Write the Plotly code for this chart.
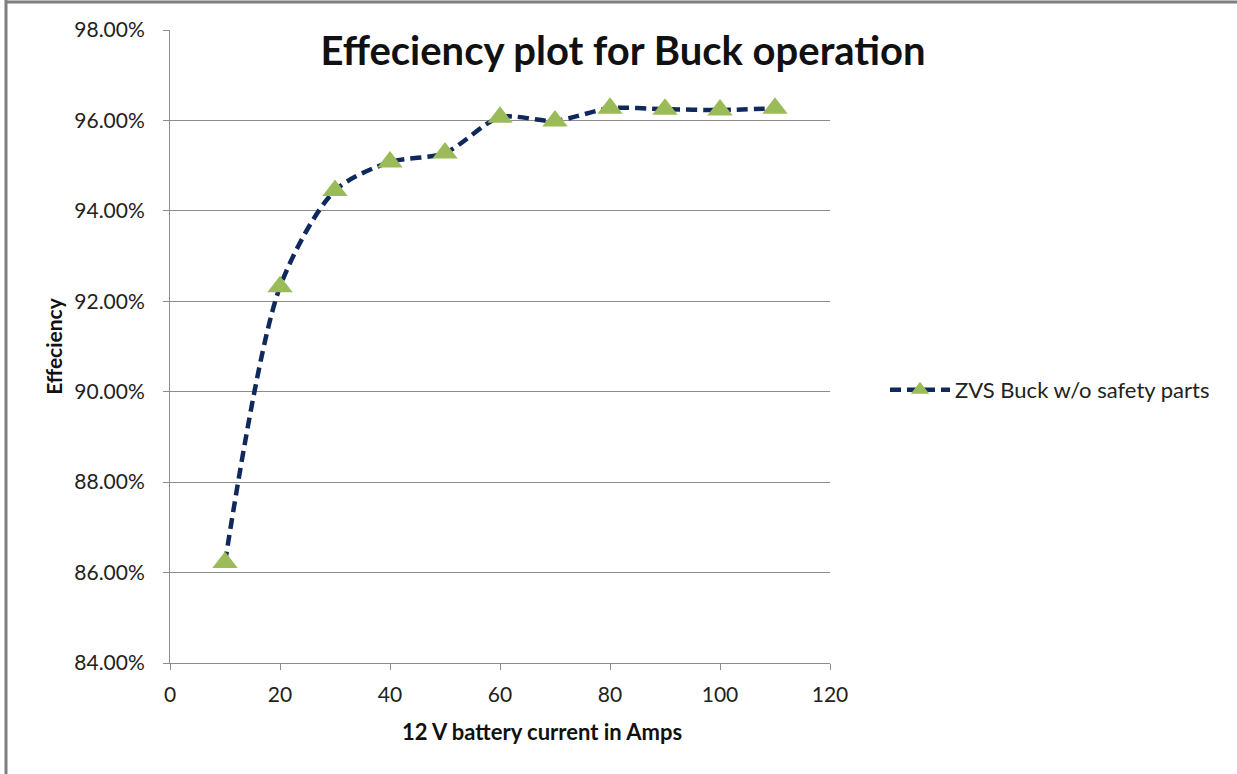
import plotly.graph_objects as go

# Battery current (A) and measured efficiency (fraction)
current_amps = [10, 20, 30, 40, 50, 60, 70, 80, 90, 100, 110]
efficiency = [0.8622, 0.9232, 0.9445, 0.9508, 0.9528, 0.9607, 0.9599,
              0.9627, 0.9625, 0.9623, 0.9627]
series_name = "ZVS Buck w/o safety parts"

FONT = "Lato, 'Open Sans', sans-serif"
AXIS_GREY = "#8c8c8c"

fig = go.Figure()
fig.add_trace(go.Scatter(
    x=current_amps,
    y=efficiency,
    name=series_name,
    mode="lines+markers",
    line=dict(color="#10295c", width=4.5, dash="11px,6px", shape="spline", smoothing=0.8),
    marker=dict(symbol="triangle-up", size=22, color="#9bbb59",
                line=dict(width=0)),
))

fig.update_layout(
    width=1237,
    height=774,
    paper_bgcolor="white",
    plot_bgcolor="white",
    margin=dict(l=170, r=407, t=30, b=111),
    font=dict(family=FONT, color="#222222"),
    title=dict(
        text="<b>Effeciency plot for Buck operation</b>",
        font=dict(family=FONT, size=40, color="#111111"),
        x=623 / 1237, xanchor="center",
        y=1 - 51 / 774, yanchor="middle",
    ),
    showlegend=True,
    legend=dict(
        x=(885 - 170) / 660, xanchor="left",
        y=(663 - 390) / 633, yanchor="middle",
        font=dict(family=FONT, size=22, color="#222222"),
        bgcolor="rgba(0,0,0,0)",
        itemwidth=60,
    ),
    xaxis=dict(
        range=[0, 120],
        dtick=20,
        tick0=0,
        showgrid=False,
        zeroline=False,
        showline=True,
        linecolor=AXIS_GREY,
        linewidth=1,
        ticks="outside",
        ticklen=6,
        tickcolor=AXIS_GREY,
        ticklabelstandoff=7,
        tickfont=dict(family=FONT, size=21, color="#222222"),
    ),
    yaxis=dict(
        range=[0.84, 0.98],
        dtick=0.02,
        tick0=0.84,
        tickformat=".2%",
        showgrid=True,
        gridcolor=AXIS_GREY,
        gridwidth=1,
        zeroline=False,
        showline=True,
        linecolor=AXIS_GREY,
        linewidth=1,
        ticks="outside",
        ticklen=6,
        tickcolor=AXIS_GREY,
        ticklabelstandoff=14,
        tickfont=dict(family=FONT, size=21, color="#222222"),
        title=dict(text="<b>Effeciency</b>",
                   font=dict(family=FONT, size=21, color="#111111"),
                   standoff=5),
    ),
)

# X-axis title, set slightly right of the plot centre
fig.add_annotation(
    text="<b>12 V battery current in Amps</b>",
    xref="paper", yref="paper",
    x=(542 - 170) / 660, y=-(731 - 663) / 633,
    xanchor="center", yanchor="middle",
    showarrow=False,
    font=dict(family=FONT, size=22, color="#111111"),
)

# Outer chart frame (left and top edges)
fig.add_shape(type="line", xref="paper", yref="paper",
              x0=-164 / 660, x1=-164 / 660, y0=1 + 30 / 633, y1=-111 / 633,
              line=dict(color="#7f7f7f", width=3))
fig.add_shape(type="line", xref="paper", yref="paper",
              x0=-164 / 660, x1=(1237 - 170) / 660, y0=1 + 28 / 633, y1=1 + 28 / 633,
              line=dict(color="#7f7f7f", width=3))

fig.write_html("out.html")
